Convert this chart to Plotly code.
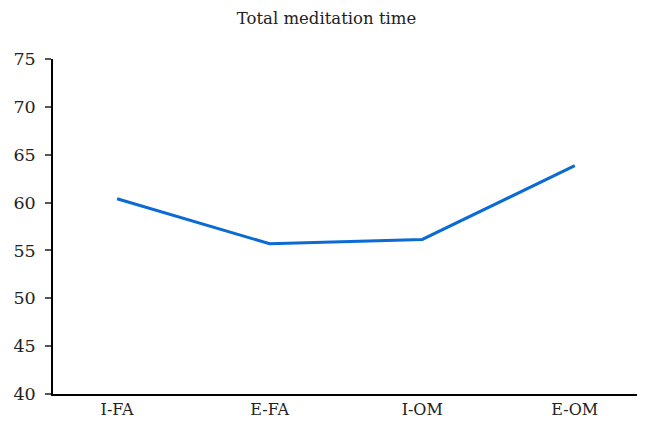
import plotly.graph_objects as go

categories = ["I-FA", "E-FA", "I-OM", "E-OM"]
values = [60.4, 55.7, 56.15, 63.85]
y_ticks = [40, 45, 50, 55, 60, 65, 70, 75]

fig = go.Figure()
fig.add_trace(go.Scatter(x=list(range(len(categories))), y=values, mode="lines",
                         line=dict(color="#0b6bd3", width=3)))

font_family = "DejaVu Serif"
fig.update_layout(
    width=637, height=413,
    margin=dict(l=45, r=0, t=51, b=27),
    paper_bgcolor="white", plot_bgcolor="white",
    showlegend=False,
    title=dict(text="Total meditation time", x=0.5, xanchor="center", y=0.976, yanchor="middle",
               font=dict(family=font_family, size=16.5, color="#222")),
    font=dict(family=font_family, color="#222"),
)
fig.update_xaxes(
    tickmode="array", tickvals=list(range(len(categories))), ticktext=categories,
    range=[-0.42, 3.46], showgrid=False, zeroline=False,
    showline=True, linecolor="black", linewidth=1.5, ticks="",
    tickfont=dict(size=16), automargin=False,
)
fig.update_yaxes(
    tickmode="array", tickvals=y_ticks, range=[40, 75],
    showgrid=False, zeroline=False, showline=True, linecolor="black", linewidth=1.5,
    ticks="outside", ticklen=6, tickcolor="#555", tickwidth=1.5,
    ticklabelstandoff=6,
    tickfont=dict(size=17.5), automargin=False,
)
fig.write_html("out.html")
